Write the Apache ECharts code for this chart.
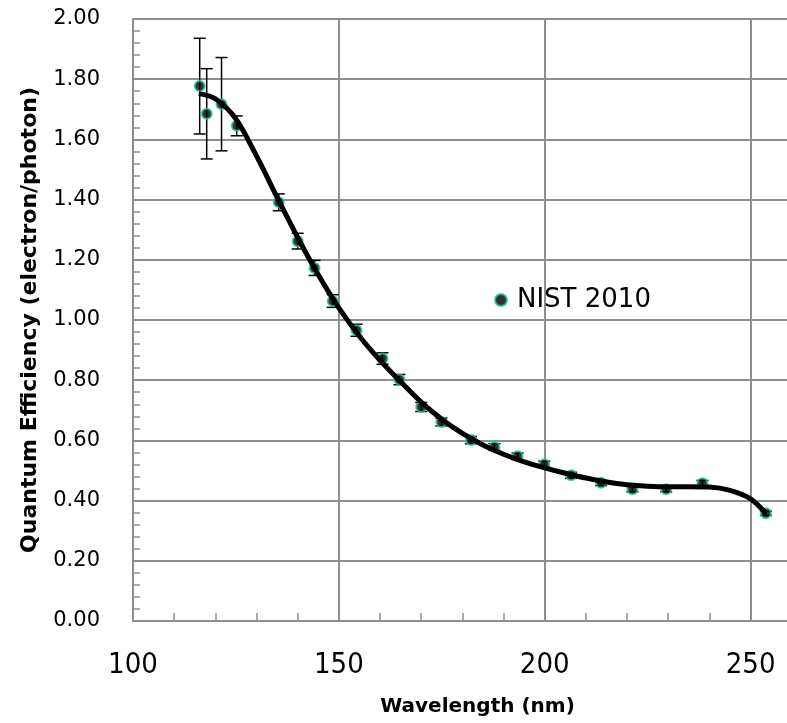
<!DOCTYPE html>
<html>
<head>
<meta charset="utf-8">
<script src="https://cdn.jsdelivr.net/npm/echarts@6/dist/echarts.min.js"></script>
<style>
  html, body { margin: 0; padding: 0; background: #fff; }
  #chart { width: 787px; height: 723px; }
</style>
</head>
<body>
<div id="chart"></div>
<script>
// measured points (NIST 2010)
const wavelength = [116.2, 117.9, 121.5, 125.2, 135.4, 140.0, 144.1, 148.5, 154.3, 160.6, 164.7,
                    170.0, 174.9, 182.1, 187.8, 193.4, 199.9, 206.4, 213.7, 221.3, 229.5, 238.3, 253.7];
const qe = [1.777, 1.685, 1.717, 1.645, 1.391, 1.262, 1.173, 1.063, 0.966, 0.872, 0.802,
            0.711, 0.661, 0.601, 0.578, 0.547, 0.521, 0.484, 0.459, 0.438, 0.438, 0.458, 0.358];
const qeErr = [0.159, 0.150, 0.155, 0.033, 0.028, 0.026, 0.025, 0.021, 0.020, 0.019, 0.017,
               0.015, 0.013, 0.012, 0.011, 0.011, 0.010, 0.010, 0.009, 0.009, 0.009, 0.009, 0.007];

// fitted curve
const fitWavelength = [116, 120, 125, 130, 135, 140, 145, 150, 155, 160, 165, 170, 175, 180, 185,
                       190, 195, 200, 205, 210, 215, 220, 225, 230, 235, 240, 245, 250, 253.7];
const fitQe = [1.752, 1.735, 1.668, 1.545, 1.408, 1.274, 1.150, 1.040, 0.946, 0.866, 0.795, 0.727,
               0.670, 0.623, 0.585, 0.554, 0.529, 0.509, 0.491, 0.475, 0.462, 0.453, 0.448, 0.446,
               0.446, 0.445, 0.434, 0.406, 0.358];

const gridColor = '#8f8f8f';
const tickFont = 'DejaVu Sans';
const titleFont = '"Comic Sans MS", "DejaVu Sans", sans-serif';

const chart = echarts.init(document.getElementById('chart'));

const errData = wavelength.map((w, i) => [w, qe[i] - qeErr[i], qe[i] + qeErr[i]]);

chart.setOption({
    animation: false,
    // plot runs past the right edge of the picture, like the cropped original
    grid: { left: 133, top: 19, width: 667, height: 602, outerBoundsMode: 'none', containLabel: false },
    legend: {
        data: ['NIST 2010'],
        left: 489,
        top: 282,
        icon: 'circle',
        itemWidth: 22,
        itemHeight: 12,
        textStyle: { fontFamily: tickFont, fontSize: 26, color: '#000' }
    },
    xAxis: {
        type: 'value',
        min: 100,
        max: 262,
        interval: 50,
        name: 'Wavelength (nm)',
        nameLocation: 'middle',
        nameGap: 76,
        nameTextStyle: { fontFamily: titleFont, fontSize: 20, fontWeight: 'bold', color: '#000', padding: [0, 0, 0, 22] },
        axisLine: { show: true, onZero: false, lineStyle: { color: gridColor, width: 2 } },
        axisTick: { show: false },
        minorTick: { show: true, splitNumber: 5, length: -8, lineStyle: { color: gridColor, width: 1.5 } },
        axisLabel: {
            margin: 30,
            showMaxLabel: false,
            fontFamily: '"Liberation Sans Narrow", "DejaVu Sans Condensed", sans-serif',
            fontSize: 29,
            color: '#000'
        },
        splitLine: { show: true, lineStyle: { color: gridColor, width: 2 } }
    },
    yAxis: {
        type: 'value',
        min: 0,
        max: 2,
        interval: 0.2,
        name: 'Quantum Efficiency (electron/photon)',
        nameLocation: 'middle',
        nameGap: 92,
        nameTextStyle: { fontFamily: titleFont, fontSize: 22, fontWeight: 'bold', color: '#000' },
        axisLine: { show: true, lineStyle: { color: gridColor, width: 2 } },
        axisTick: { show: false },
        minorTick: { show: true, splitNumber: 5, length: -7, lineStyle: { color: gridColor, width: 1.5 } },
        axisLabel: {
            margin: 33,
            fontFamily: tickFont,
            fontSize: 21,
            color: '#000',
            formatter: v => v.toFixed(2)
        },
        splitLine: { show: true, lineStyle: { color: gridColor, width: 2 } }
    },
    series: [
        {
            name: 'err',
            type: 'custom',
            z: 2,
            silent: true,
            data: errData,
            renderItem: (params, api) => {
                const x = api.value(0);
                const lo = api.coord([x, api.value(1)]);
                const hi = api.coord([x, api.value(2)]);
                const w = 6;
                const style = { stroke: '#000', lineWidth: 1.5 };
                return {
                    type: 'group',
                    children: [
                        { type: 'line', shape: { x1: hi[0], y1: hi[1], x2: lo[0], y2: lo[1] }, style },
                        { type: 'line', shape: { x1: hi[0] - w, y1: hi[1], x2: hi[0] + w, y2: hi[1] }, style },
                        { type: 'line', shape: { x1: lo[0] - w, y1: lo[1], x2: lo[0] + w, y2: lo[1] }, style }
                    ]
                };
            }
        },
        {
            name: 'NIST 2010',
            type: 'scatter',
            z: 3,
            symbol: 'circle',
            symbolSize: 10,
            itemStyle: { color: '#000', borderColor: '#1cc79f', borderWidth: 2 },
            data: wavelength.map((w, i) => [w, qe[i]])
        },
        {
            name: 'fit',
            type: 'line',
            z: 4,
            smooth: 0.3,
            showSymbol: false,
            lineStyle: { color: '#000', width: 5 },
            data: fitWavelength.map((w, i) => [w, fitQe[i]])
        }
    ]
});
</script>
</body>
</html>
